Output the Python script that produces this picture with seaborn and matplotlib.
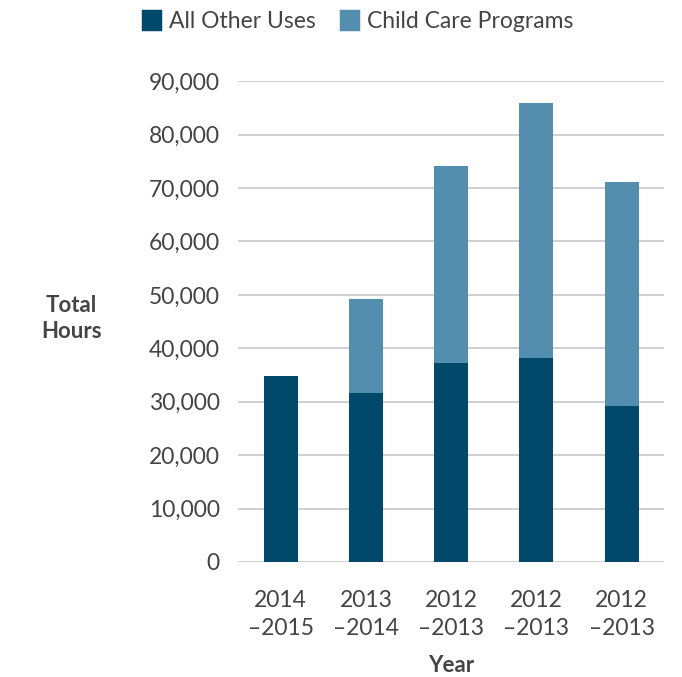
import matplotlib
matplotlib.use("Agg")
import matplotlib.pyplot as plt
from matplotlib.patches import Patch
import seaborn as sns
import pandas as pd

# data
years = ["2014\n\u20132015", "2013\n\u20132014", "2012\n\u20132013", "2012\n\u20132013", "2012\n\u20132013"]
other_uses = [34900, 31700, 37200, 38100, 29100]
child_care = [0, 17550, 36900, 47800, 42100]
yticks = [0, 10000, 20000, 30000, 40000, 50000, 60000, 70000, 80000, 90000]

dark = "#00496b"
light = "#548eae"
text_col = "#444444"

sns.set_theme(style="white")
plt.rcParams["font.family"] = ["Lato", "DejaVu Sans"]

df = pd.DataFrame({"pos": range(len(years)), "other": other_uses, "child": child_care})
df["total"] = df["other"] + df["child"]

fig = plt.figure(figsize=(6.82, 6.77), dpi=100)
ax = fig.add_axes([0.349, 0.170, 0.625, 0.710])

# stacked bars: total first (light), then the lower segment (dark) on top
sns.barplot(data=df, x="pos", y="total", color=light, width=0.4, saturation=1, linewidth=0, ax=ax)
sns.barplot(data=df, x="pos", y="other", color=dark, width=0.4, saturation=1, linewidth=0, ax=ax)

ax.set_ylim(0, 90000)
ax.set_xlim(-0.5, 4.5)
ax.set_yticks(yticks)
ax.set_yticklabels([f"{v:,}" for v in yticks], fontsize=16.5, color=text_col)
ax.set_xticks(range(len(years)))
ax.set_xticklabels(years, fontsize=16.5, color=text_col, linespacing=1.45)
ax.tick_params(axis="y", length=0, pad=13)
ax.tick_params(axis="x", length=0, pad=20)
ax.yaxis.grid(True, color="#cccccc", linewidth=1.3)
ax.set_axisbelow(True)
for s in ax.spines.values():
    s.set_visible(False)

ax.set_xlabel("Year", fontsize=16, fontweight="bold", color=text_col, labelpad=11)
ax.set_ylabel("")
fig.text(0.105, 0.53, "Total\nHours", fontsize=16, fontweight="bold", color=text_col,
         ha="center", va="center", linespacing=1.3)

handles = [Patch(facecolor=dark, edgecolor=dark, linewidth=2.5, joinstyle="round", label="All Other Uses"),
           Patch(facecolor=light, edgecolor=light, linewidth=2.5, joinstyle="round", label="Child Care Programs")]
leg = fig.legend(handles=handles, loc="center", bbox_to_anchor=(0.525, 0.968), ncol=2, frameon=False,
                 fontsize=16.5, handlelength=0.75, handleheight=0.85, handletextpad=0.4, columnspacing=1.1)
for t in leg.get_texts():
    t.set_color(text_col)

fig.savefig("out.png", dpi=100)
